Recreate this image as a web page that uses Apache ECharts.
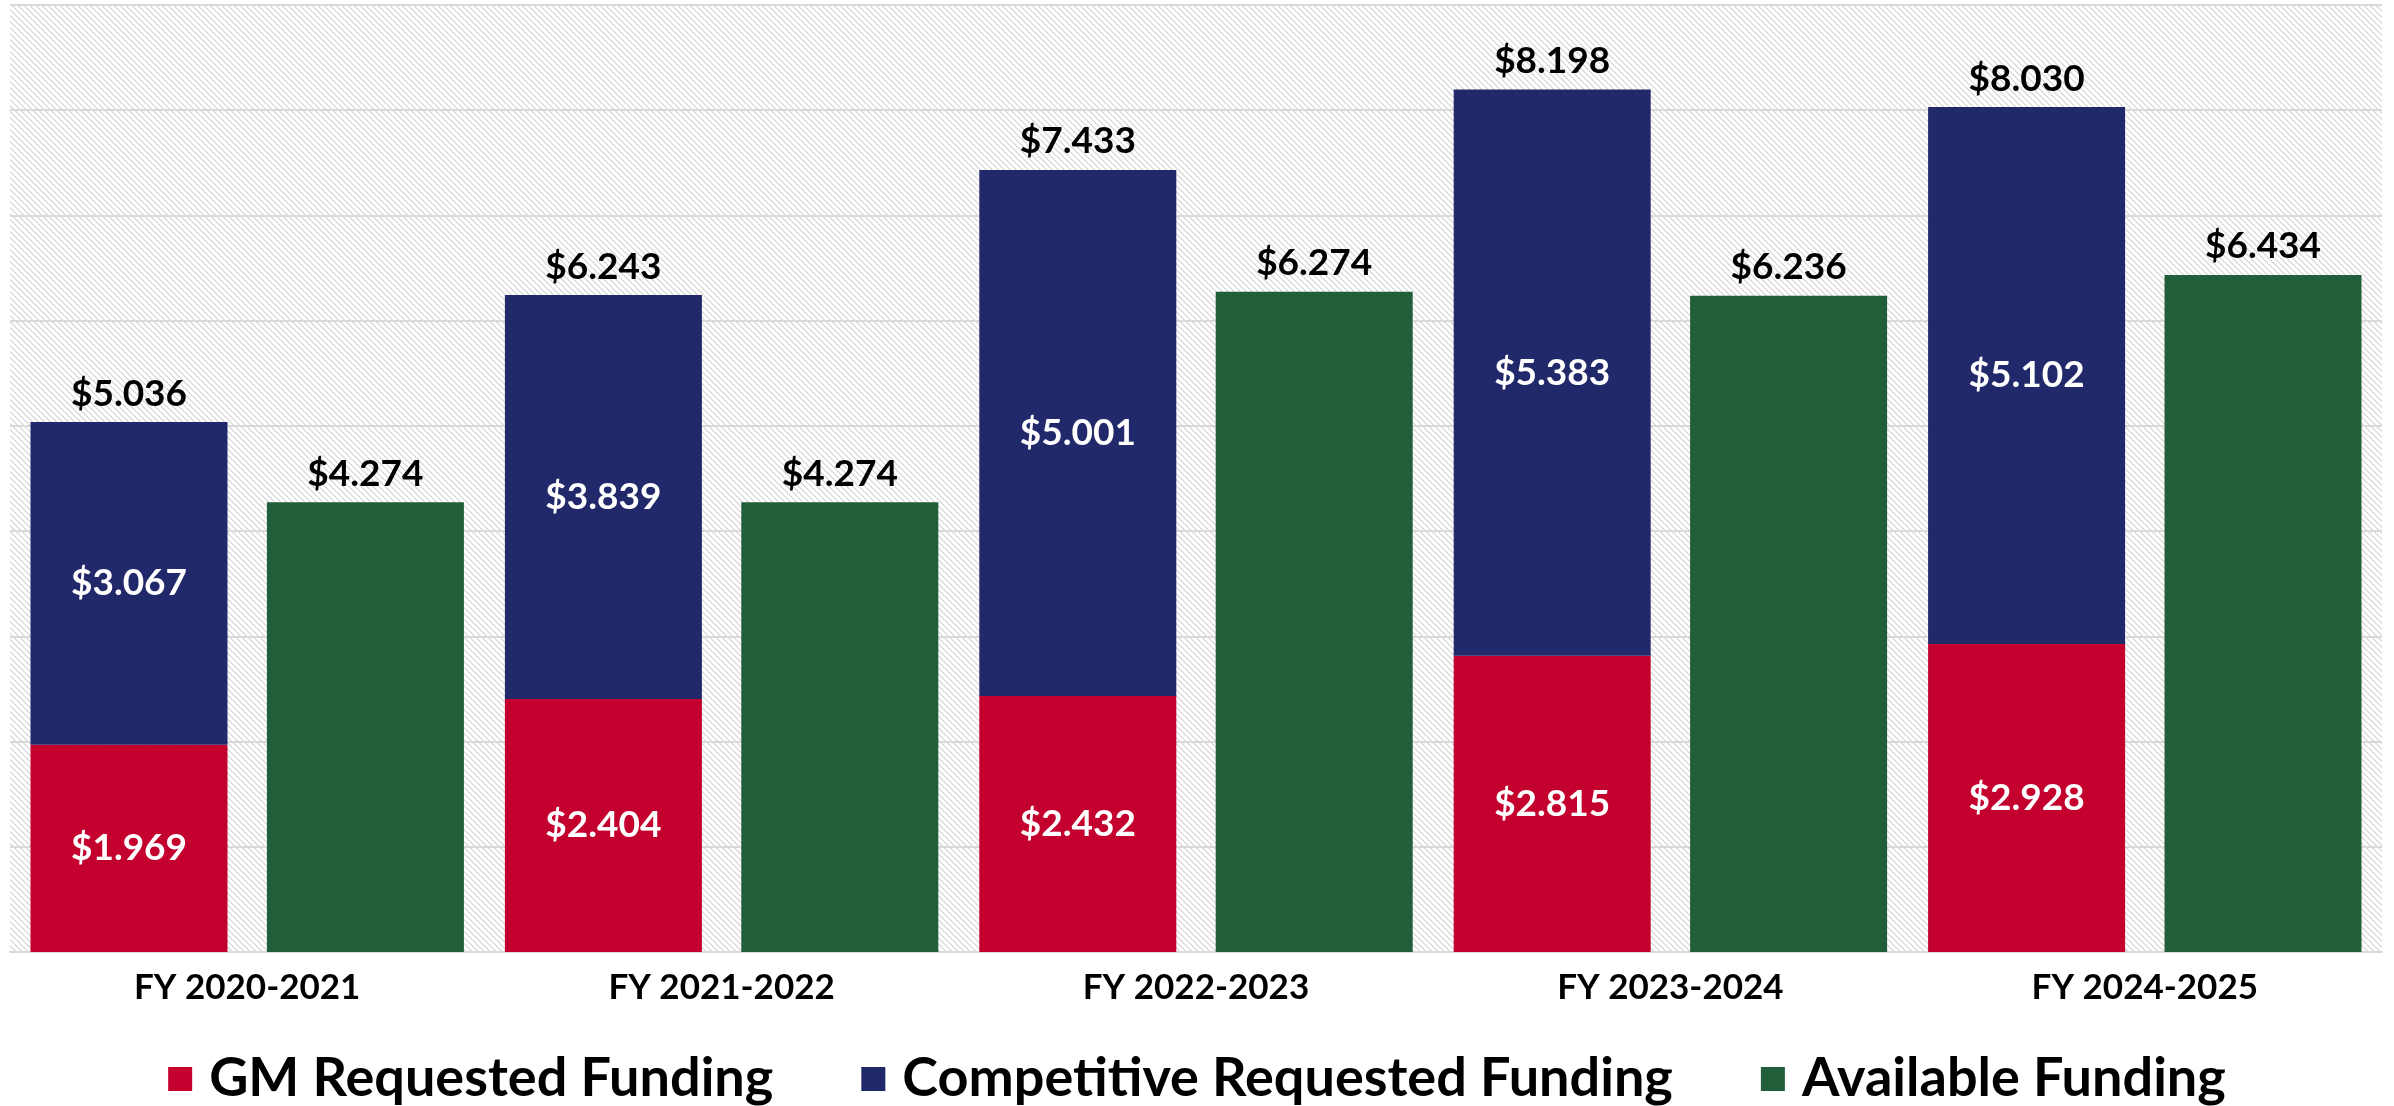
<!DOCTYPE html>
<html>
<head>
<meta charset="utf-8">
<script src="https://cdn.jsdelivr.net/npm/echarts@6/dist/echarts.min.js"></script>
<style>
html,body{margin:0;padding:0;background:#fff;}
#chart{width:2394px;height:1106px;}
</style>
</head>
<body>
<div id="chart"></div>
<script>
const categories = ['FY 2020-2021', 'FY 2021-2022', 'FY 2022-2023', 'FY 2023-2024', 'FY 2024-2025'];
const gmRequested = [1.969, 2.404, 2.432, 2.815, 2.928];
const competitiveRequested = [3.067, 3.839, 5.001, 5.383, 5.102];
const availableFunding = [4.274, 4.274, 6.274, 6.236, 6.434];
const yTicks = [0, 1, 2, 3, 4, 5, 6, 7, 8, 9];

const FONT = 'Lato, "Noto Sans", sans-serif';
const fmt = v => '$' + v.toFixed(3);

// hatch pattern (downward diagonal)
const T = 6;
const tile = document.createElement('canvas');
tile.width = T; tile.height = T;
const tctx = tile.getContext('2d');
tctx.fillStyle = '#ffffff';
tctx.fillRect(0, 0, T, T);
tctx.fillStyle = '#dddddd';
for (let i = 0; i < T; i++) {
  tctx.fillRect(i, i, 1, 1);
  tctx.fillRect((i + 1) % T, i, 1, 1);
}

const totals = gmRequested.map((v, i) => v + competitiveRequested[i]);

const chart = echarts.init(document.getElementById('chart'));
chart.setOption({
  animation: false,
  backgroundColor: '#ffffff',
  grid: {
    left: 10, right: 12, top: 5, bottom: 154,
    show: true,
    borderWidth: 0,
    backgroundColor: { image: tile, repeat: 'repeat' }
  },
  legend: {
    data: ['GM Requested Funding', 'Competitive Requested Funding', 'Available Funding'],
    top: 1047,
    left: 'center',
    icon: 'rect',
    itemWidth: 24,
    itemHeight: 24,
    itemGap: 88,
    textStyle: {
      fontFamily: FONT, fontWeight: 'bold', fontSize: 54, color: '#000',
      padding: [0, 0, 0, 12]
    }
  },
  xAxis: {
    type: 'category',
    data: categories,
    axisLine: { show: true, lineStyle: { color: '#d9d9d9', width: 2 } },
    axisTick: { show: false },
    axisLabel: {
      margin: 18,
      fontFamily: FONT, fontWeight: 'bold', fontSize: 35, color: '#000'
    }
  },
  yAxis: {
    type: 'value',
    min: yTicks[0],
    max: yTicks[yTicks.length - 1],
    interval: 1,
    axisLabel: { show: false },
    axisLine: { show: false },
    axisTick: { show: false },
    splitLine: { show: true, lineStyle: { color: '#d9d9d9', width: 2 } }
  },
  series: [
    {
      name: 'GM Requested Funding',
      type: 'bar',
      stack: 'req',
      barWidth: 197,
      barGap: '20%',
      data: gmRequested,
      itemStyle: { color: '#C4002F' },
      label: {
        show: true, position: 'inside', formatter: p => fmt(p.value),
        fontFamily: FONT, fontWeight: 'bold', fontSize: 37, color: '#fff'
      }
    },
    {
      name: 'Competitive Requested Funding',
      type: 'bar',
      stack: 'req',
      barWidth: 197,
      data: competitiveRequested,
      itemStyle: { color: '#21296A' },
      label: {
        show: true, position: 'inside', formatter: p => fmt(p.value),
        fontFamily: FONT, fontWeight: 'bold', fontSize: 37, color: '#fff'
      }
    },
    {
      name: 'Total',
      type: 'bar',
      stack: 'req',
      barWidth: 197,
      data: totals.map(() => 0),
      itemStyle: { color: 'rgba(0,0,0,0)' },
      label: {
        show: true, position: 'top', distance: 10,
        formatter: p => fmt(totals[p.dataIndex]),
        fontFamily: FONT, fontWeight: 'bold', fontSize: 37, color: '#000'
      },
      tooltip: { show: false }
    },
    {
      name: 'Available Funding',
      type: 'bar',
      barWidth: 197,
      barGap: '20%',
      data: availableFunding,
      itemStyle: { color: '#215E3A' },
      label: {
        show: true, position: 'top', distance: 10, formatter: p => fmt(p.value),
        fontFamily: FONT, fontWeight: 'bold', fontSize: 37, color: '#000'
      }
    }
  ]
});
</script>
</body>
</html>
